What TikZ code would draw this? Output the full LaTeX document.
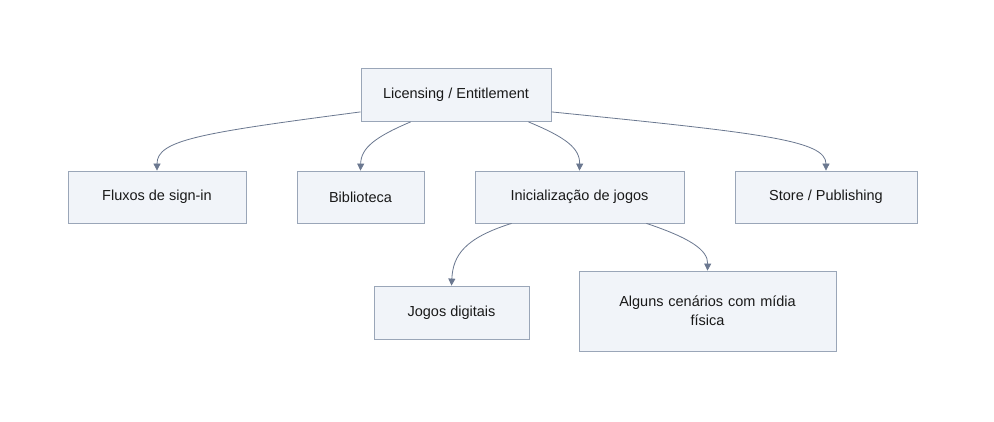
\documentclass[tikz,border=0pt]{standalone}
\usepackage{fontspec}
\setmainfont{Liberation Sans}
\usetikzlibrary{arrows.meta}
\definecolor{bord}{HTML}{9AA6B8}
\definecolor{fillc}{HTML}{F1F4F9}
\definecolor{edgec}{HTML}{6B7890}
\begin{document}
\begin{tikzpicture}[x=1pt,y=-1pt,
 box/.style={draw=bord, fill=fillc, line width=0.8pt, minimum height=53pt, align=center, font=\fontsize{14.5}{19}\selectfont, text=black!90},
 edge/.style={draw=edgec, line width=0.8pt, -{Triangle[length=7pt,width=7pt]}}]
\fill[white] (0,0) rectangle (994,422);
\useasboundingbox (0,0) rectangle (994,422);
\node[box, minimum width=190pt] (lic) at (456,95) {Licensing / Entitlement};
\node[box, minimum width=178pt, minimum height=52pt] (flu) at (157,197) {Fluxos de sign-in};
\node[box, minimum width=127pt, minimum height=52pt] (bib) at (360.5,197) {Biblioteca};
\node[box, minimum width=209pt, minimum height=52pt] (ini) at (579.5,197) {Inicialização de jogos};
\node[box, minimum width=182pt, minimum height=52pt] (sto) at (826,197) {Store / Publishing};
\node[box, minimum width=155pt] (jog) at (451.5,312.5) {Jogos digitais};
\node[box, minimum width=257pt, minimum height=80pt, text width=200pt] (alg) at (707.5,311) {Alguns cenários com mídia\\física};
\draw[edge] ([yshift=10pt]lic.south west) .. controls (200,133) and (157,140) .. (flu.north);
\draw[edge] ([xshift=50pt]lic.south west) .. controls (375,137) and (361,148) .. (bib.north);
\draw[edge] ([xshift=-23pt]lic.south east) .. controls (565,137) and (580,148) .. (ini.north);
\draw[edge] ([yshift=10pt]lic.south east) .. controls (760,133) and (826,140) .. (sto.north);
\draw[edge] ([xshift=37pt]ini.south west) .. controls (465,238) and (453,255) .. (jog.north);
\draw[edge] ([xshift=-38pt]ini.south east) .. controls (690,238) and (708,250) .. (alg.north);
\end{tikzpicture}
\end{document}
